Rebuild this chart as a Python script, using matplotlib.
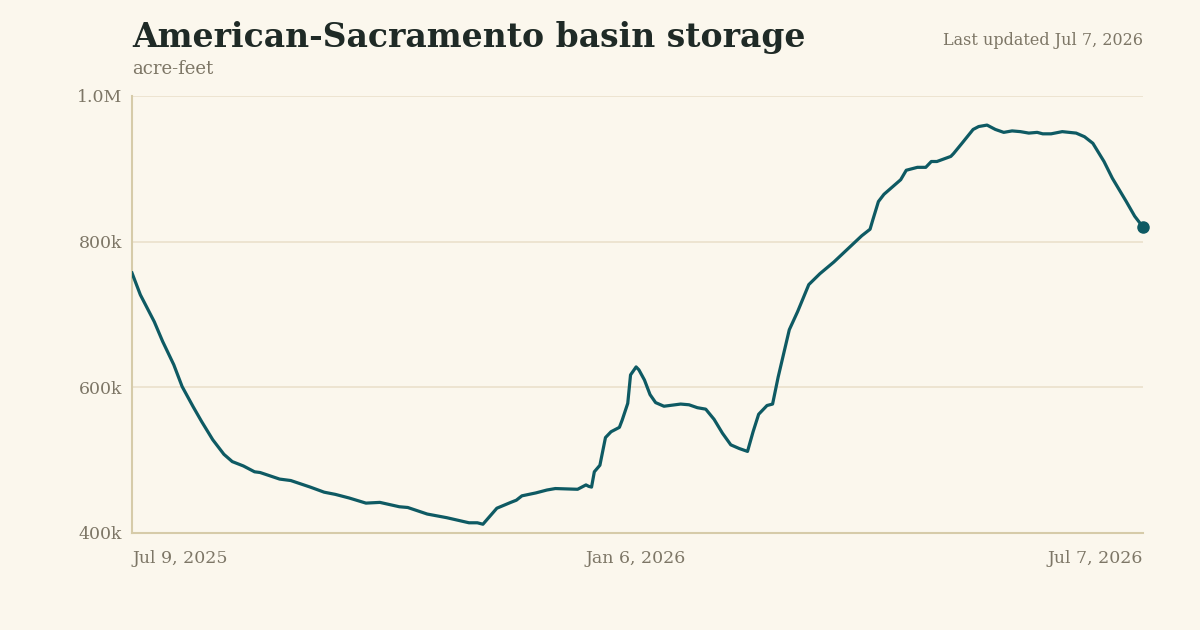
import datetime as dt
import matplotlib
matplotlib.use("Agg")
import matplotlib.pyplot as plt

# storage: days since Jul 9, 2025 and thousand acre-feet
start_date = dt.date(2025, 7, 9)
days = [0, 3, 8, 11, 15, 18, 22, 25, 29, 33, 36, 40, 44, 46, 53, 57, 64, 69, 73,
        78, 84, 89, 96, 99, 106, 113, 121, 124, 126, 131, 136, 138, 140, 145,
        149, 152, 160, 163, 164, 165, 166, 168, 170, 172, 175, 176, 178, 179,
        181, 182, 184, 186, 188, 191, 197, 200, 203, 206, 209, 212, 215, 218,
        221, 223, 225, 228, 230, 232, 236, 239, 243, 247, 252, 257, 262, 265,
        266, 268, 270, 273, 276, 278, 282, 285, 287, 289, 294, 295, 298, 302,
        304, 307, 310, 313, 316, 319, 322, 325, 327, 330, 334, 339, 342, 345,
        349, 352, 357, 360, 363]
storage = [757, 727, 690, 663, 631, 601, 573, 553, 528, 508, 498, 492, 484, 483,
           474, 472, 463, 456, 453, 448, 441, 442, 436, 435, 426, 421, 414, 414,
           412, 434, 442, 445, 451, 455, 459, 461, 460, 466, 464, 463, 484, 493,
           531, 539, 545, 555, 578, 617, 628, 624, 610, 590, 579, 574, 577, 576,
           572, 570, 556, 537, 521, 516, 512, 539, 563, 575, 577, 614, 679, 704,
           741, 756, 772, 790, 808, 817, 830, 855, 865, 875, 885, 898, 902, 902,
           910, 910, 917, 921, 935, 954, 958, 960, 954, 950, 952, 951, 949, 950,
           948, 948, 951, 949, 944, 935, 910, 887, 855, 835, 820]

y_ticks = [400, 600, 800, 1000]
y_labels = ["400k", "600k", "800k", "1.0M"]
x_ticks = [dt.date(2025, 7, 9), dt.date(2026, 1, 6), dt.date(2026, 7, 7)]
x_labels = ["Jul 9, 2025", "Jan 6, 2026", "Jul 7, 2026"]

dates = [start_date + dt.timedelta(days=d) for d in days]

bg = "#fbf7ed"
teal = "#0e5a63"
muted = "#7d7666"

plt.rcParams["font.family"] = ["DejaVu Serif"]

fig = plt.figure(figsize=(12, 6.3), dpi=100, facecolor=bg)
ax = fig.add_axes([0.11, 0.154, 0.8425, 0.6937], facecolor=bg)

ax.plot(dates, storage, color=teal, lw=2.3, solid_joinstyle="round", zorder=3)
ax.plot(dates[-1], storage[-1], "o", color=teal, ms=8, clip_on=False, zorder=4)

ax.set_xlim(x_ticks[0], x_ticks[-1])
ax.set_ylim(400, 1000)
ax.set_yticks(y_ticks)
ax.set_yticklabels(y_labels)
ax.set_xticks(x_ticks)
ax.set_xticklabels(x_labels)

for y in y_ticks[1:]:
    ax.axhline(y, color="#ede4d1", lw=1.4, zorder=1)

for s in ["top", "right"]:
    ax.spines[s].set_visible(False)
for s in ["left", "bottom"]:
    ax.spines[s].set_color("#d6cba9")
    ax.spines[s].set_linewidth(1.5)

ax.tick_params(length=0, colors=muted, labelsize=12.5)
ax.tick_params(axis="y", pad=7)
ax.tick_params(axis="x", pad=12)
xl = ax.get_xticklabels()
xl[0].set_ha("left")
xl[-1].set_ha("right")

fig.text(0.11, 0.925, "American-Sacramento basin storage", fontsize=23.8,
         fontweight="bold", color="#1f2a26", va="baseline")
fig.text(0.11, 0.882, "acre-feet", fontsize=13, color=muted, va="baseline")
fig.text(0.9525, 0.928, "Last updated Jul 7, 2026", fontsize=11.5, color=muted,
         ha="right", va="baseline")

fig.savefig("out.png", dpi=100, facecolor=bg)
